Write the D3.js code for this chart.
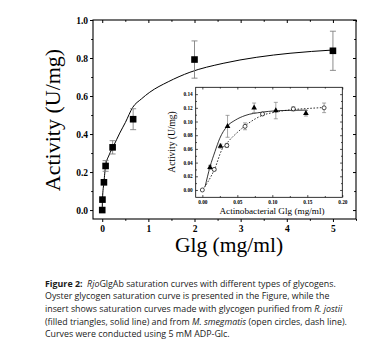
<!DOCTYPE html>
<html><head><meta charset="utf-8">
<script src="https://cdn.jsdelivr.net/npm/d3@7"></script>
<style>body{margin:0;background:#fff}</style>
</head><body><svg id="c" width="370" height="357"></svg>
<script>
// ---- data ----
const mainX   = [0, 0.005, 0.037, 0.073, 0.225, 0.67, 2.0, 5.0];
const mainY   = [0, 0.055, 0.146, 0.232, 0.33, 0.478, 0.792, 0.838];
const mainErr = [0, 0, 0.01, 0.028, 0.035, 0.055, 0.098, 0.103];
const fitX = [0, 0.005, 0.037, 0.073, 0.15, 0.24, 0.31, 0.38, 0.5, 0.66, 0.85, 1.03, 1.43, 1.9, 2.62, 3.35, 4.07, 5.0];
const fitY = [0, 0.055, 0.146, 0.232, 0.29, 0.335, 0.37, 0.405, 0.46, 0.54, 0.585, 0.62, 0.675, 0.725, 0.772, 0.804, 0.825, 0.842];

const triX   = [0.011, 0.026, 0.036, 0.074, 0.105, 0.148];
const triY   = [0.033, 0.064, 0.093, 0.120, 0.116, 0.112];
const triErr = [0.003, 0.003, 0.016, 0.007, 0.012, 0.004];
const circX   = [0, 0.017, 0.035, 0.061, 0.086, 0.13, 0.174];
const circY   = [0, 0.030, 0.065, 0.093, 0.111, 0.1185, 0.120];
const circErr = [0, 0.002, 0.003, 0.005, 0.002, 0.003, 0.007];
const solidX = [0.004, 0.011, 0.018, 0.025, 0.035, 0.047, 0.061, 0.085, 0.104, 0.125, 0.15];
const solidY = [0.005, 0.034, 0.056, 0.0756, 0.0926, 0.102, 0.1087, 0.1136, 0.1156, 0.1163, 0.1167];
const dashX = [0, 0.008, 0.018, 0.0277, 0.037, 0.051, 0.066, 0.085, 0.104, 0.13, 0.15, 0.174];
const dashY = [0, 0.012, 0.0317, 0.0585, 0.0707, 0.085, 0.0975, 0.1087, 0.1137, 0.1175, 0.119, 0.1205];

const mainXTicks = [0, 1, 2, 3, 4, 5];
const mainYTicks = [0, 0.2, 0.4, 0.6, 0.8, 1.0];
const insXTicks = [0, 0.05, 0.10, 0.15, 0.20];
const insYTicks = [0, 0.02, 0.04, 0.06, 0.08, 0.10, 0.12, 0.14];

const svg = d3.select("#c");
const serif = "'Liberation Serif','Times New Roman',serif";

// ---- main plot ----
const L=93, R=356, T=20, B=219;
const x = d3.scaleLinear([-0.2, 5.5], [L, R]);
const y = d3.scaleLinear([-0.047, 1.0], [B, T]);

function styleAxis(g, fs){
  g.selectAll(".domain").remove();
  g.selectAll("line").attr("stroke","#000").attr("stroke-width",1);
  g.selectAll("text").attr("font-family",serif).attr("font-weight","bold").attr("font-size",fs).attr("fill","#000");
}
const minorX = d3.range(-0.0, 5.51, 0.5).filter(v=>!mainXTicks.includes(v));
const minorY = d3.range(0.1, 1.0, 0.2);

svg.append("g").attr("transform",`translate(0,${B})`)
  .call(d3.axisBottom(x).tickValues(mainXTicks).tickSize(3).tickPadding(3).tickFormat(d3.format("d")))
  .call(g=>styleAxis(g,9.5));
svg.append("g").attr("transform",`translate(0,${B})`)
  .call(d3.axisBottom(x).tickValues(minorX).tickSize(1.8).tickFormat(""))
  .call(g=>styleAxis(g,9.5));
svg.append("g").attr("transform",`translate(${L},0)`)
  .call(d3.axisLeft(y).tickValues(mainYTicks).tickSize(3).tickPadding(2).tickFormat(d3.format(".1f")))
  .call(g=>styleAxis(g,9.5));
svg.append("g").attr("transform",`translate(${L},0)`)
  .call(d3.axisLeft(y).tickValues(minorY).tickSize(1.8).tickFormat(""))
  .call(g=>styleAxis(g,9.5));
// mirrored inward ticks top/right
svg.append("g").attr("transform",`translate(0,${T})`)
  .call(d3.axisBottom(x).tickValues(mainXTicks).tickSize(3).tickFormat(""))
  .call(g=>styleAxis(g,9.5));
svg.append("g").attr("transform",`translate(0,${T})`)
  .call(d3.axisBottom(x).tickValues(minorX).tickSize(1.8).tickFormat(""))
  .call(g=>styleAxis(g,9.5));
svg.append("g").attr("transform",`translate(${R},0)`)
  .call(d3.axisLeft(y).tickValues(mainYTicks).tickSize(3).tickFormat(""))
  .call(g=>styleAxis(g,9.5));
svg.append("g").attr("transform",`translate(${R},0)`)
  .call(d3.axisLeft(y).tickValues(minorY).tickSize(1.8).tickFormat(""))
  .call(g=>styleAxis(g,9.5));

svg.append("rect").attr("x",L).attr("y",T).attr("width",R-L).attr("height",B-T)
  .attr("fill","none").attr("stroke","#000").attr("stroke-width",1.1);

// fit curve
const fit = fitX.map((v,i)=>[v,fitY[i]]);
svg.append("path").datum(fit)
  .attr("d", d3.line().x(d=>x(d[0])).y(d=>y(d[1])).curve(d3.curveMonotoneX))
  .attr("fill","none").attr("stroke","#000").attr("stroke-width",1);

// error bars
const mainPts = mainX.map((v,i)=>({x:v,y:mainY[i],e:mainErr[i]}));
const eb = svg.append("g").attr("stroke","#808080").attr("stroke-width",0.9);
mainPts.filter(d=>d.e>0).forEach(d=>{
  eb.append("line").attr("x1",x(d.x)).attr("x2",x(d.x)).attr("y1",y(d.y-d.e)).attr("y2",y(d.y+d.e));
  [d.y-d.e,d.y+d.e].forEach(v=>eb.append("line").attr("x1",x(d.x)-3).attr("x2",x(d.x)+3).attr("y1",y(v)).attr("y2",y(v)));
});
svg.append("g").selectAll("rect").data(mainPts).join("rect")
  .attr("x",d=>x(d.x)-3.3).attr("y",d=>y(d.y)-3.3).attr("width",6.6).attr("height",6.6).attr("fill","#000");

// axis titles
svg.append("text").attr("x",229).attr("y",252).attr("text-anchor","middle")
  .attr("font-family",serif).attr("font-size",21.5).text("Glg (mg/ml)");
svg.append("text").attr("transform","translate(60,120) rotate(-90)").attr("text-anchor","middle")
  .attr("font-family",serif).attr("font-size",22).text("Activity (U/mg)");

// ---- inset ----
const iL=195.7, iR=342.3, iT=87.3, iB=197.3;
const xi = d3.scaleLinear([-0.0095, 0.2], [iL, iR]);
const yi = d3.scaleLinear([-0.0107, 0.150], [iB, iT]);
svg.append("rect").attr("x",iL).attr("y",iT).attr("width",iR-iL).attr("height",iB-iT)
  .attr("fill","#fff").attr("stroke","none");

function styleI(g){
  g.selectAll(".domain").remove();
  g.selectAll("line").attr("stroke","#000").attr("stroke-width",0.7);
  g.selectAll("text").attr("font-family",serif).attr("font-weight","bold").attr("font-size",5.3).attr("fill","#000");
}
const insMinX = d3.range(0.025, 0.2, 0.05);
const insMinY = d3.range(0.01, 0.15, 0.02);
svg.append("g").attr("transform",`translate(0,${iB})`)
  .call(d3.axisTop(xi).tickValues(insXTicks).tickSize(2.2).tickFormat("")).call(styleI);
svg.append("g").attr("transform",`translate(0,${iB})`)
  .call(d3.axisTop(xi).tickValues(insMinX).tickSize(1.3).tickFormat("")).call(styleI);
svg.append("g").attr("transform",`translate(0,${iB})`)
  .call(d3.axisBottom(xi).tickValues(insXTicks).tickSize(0).tickPadding(2.5).tickFormat(d3.format(".2f"))).call(styleI);
svg.append("g").attr("transform",`translate(0,${iT})`)
  .call(d3.axisBottom(xi).tickValues(insXTicks).tickSize(2.2).tickFormat("")).call(styleI);
svg.append("g").attr("transform",`translate(0,${iT})`)
  .call(d3.axisBottom(xi).tickValues(insMinX).tickSize(1.3).tickFormat("")).call(styleI);
svg.append("g").attr("transform",`translate(${iL},0)`)
  .call(d3.axisRight(yi).tickValues(insYTicks).tickSize(2.2).tickFormat("")).call(styleI);
svg.append("g").attr("transform",`translate(${iL},0)`)
  .call(d3.axisRight(yi).tickValues(insMinY).tickSize(1.3).tickFormat("")).call(styleI);
svg.append("g").attr("transform",`translate(${iL},0)`)
  .call(d3.axisLeft(yi).tickValues(insYTicks).tickSize(0).tickPadding(3).tickFormat(d3.format(".2f"))).call(styleI);
svg.append("g").attr("transform",`translate(${iR},0)`)
  .call(d3.axisLeft(yi).tickValues(insYTicks).tickSize(2.2).tickFormat("")).call(styleI);
svg.append("g").attr("transform",`translate(${iR},0)`)
  .call(d3.axisLeft(yi).tickValues(insMinY).tickSize(1.3).tickFormat("")).call(styleI);

svg.append("rect").attr("x",iL).attr("y",iT).attr("width",iR-iL).attr("height",iB-iT)
  .attr("fill","none").attr("stroke","#000").attr("stroke-width",0.8);

const lineI = d3.line().x(d=>xi(d[0])).y(d=>yi(d[1])).curve(d3.curveMonotoneX);
svg.append("path").datum(solidX.map((v,i)=>[v,solidY[i]])).attr("d",lineI)
  .attr("fill","none").attr("stroke","#000").attr("stroke-width",0.8);
svg.append("path").datum(dashX.map((v,i)=>[v,dashY[i]])).attr("d",lineI)
  .attr("fill","none").attr("stroke","#000").attr("stroke-width",0.8).attr("stroke-dasharray","1.6,1.6");

const ebi = svg.append("g").attr("stroke","#808080").attr("stroke-width",0.7);
function errI(px,py,pe){
  px.forEach((v,i)=>{
    if(pe[i]<=0) return;
    const cx=xi(v);
    ebi.append("line").attr("x1",cx).attr("x2",cx).attr("y1",yi(py[i]-pe[i])).attr("y2",yi(py[i]+pe[i]));
    [py[i]-pe[i],py[i]+pe[i]].forEach(t=>ebi.append("line").attr("x1",cx-2).attr("x2",cx+2).attr("y1",yi(t)).attr("y2",yi(t)));
  });
}
errI(triX,triY,triErr); errI(circX,circY,circErr);

const tri = d3.symbol().type(d3.symbolTriangle).size(14);
svg.append("g").selectAll("path").data(triX.map((v,i)=>[v,triY[i]])).join("path")
  .attr("d",tri).attr("transform",d=>`translate(${xi(d[0])},${yi(d[1])})`).attr("fill","#000");
svg.append("g").selectAll("circle").data(circX.map((v,i)=>[v,circY[i]])).join("circle")
  .attr("cx",d=>xi(d[0])).attr("cy",d=>yi(d[1])).attr("r",2).attr("fill","#fff")
  .attr("stroke","#000").attr("stroke-width",0.7);

svg.append("text").attr("x",272).attr("y",214).attr("text-anchor","middle")
  .attr("font-family",serif).attr("font-size",9.2).text("Actinobacterial Glg (mg/ml)");
svg.append("text").attr("transform","translate(175,142) rotate(-90)").attr("text-anchor","middle")
  .attr("font-family",serif).attr("font-size",9.5).text("Activity (U/mg)");

// ---- caption ----
const cap = svg.append("g").attr("font-family","'Open Sans','Noto Sans',sans-serif").attr("font-size",8.85).attr("fill","#1a1a1a");
const capLines = [
  [["Figure 2:","b"],["\u00a0 ",""],["Rjo","i"],["GlgAb saturation curves with different types of glycogens.",""]],
  [["Oyster glycogen saturation curve is presented in the Figure, while the",""]],
  [["insert shows saturation curves made with glycogen purified from ",""],["R. jostii","i"]],
  [["(filled triangles, solid line) and from ",""],["M. smegmatis","i"],[" (open circles, dash line).",""]],
  [["Curves were conducted using 5 mM ADP-Glc.",""]]
];
const capBase = [286.5, 299.2, 311.9, 324.6, 337.3];
capLines.forEach((ln,i)=>{
  const t = cap.append("text").attr("x",45).attr("y",capBase[i]).attr("xml:space","preserve");
  ln.forEach(([s,st])=>{
    const ts=t.append("tspan").text(s);
    if(st==="b") ts.attr("font-weight","bold");
    if(st==="i") ts.attr("font-style","italic");
  });
});
</script></body></html>
